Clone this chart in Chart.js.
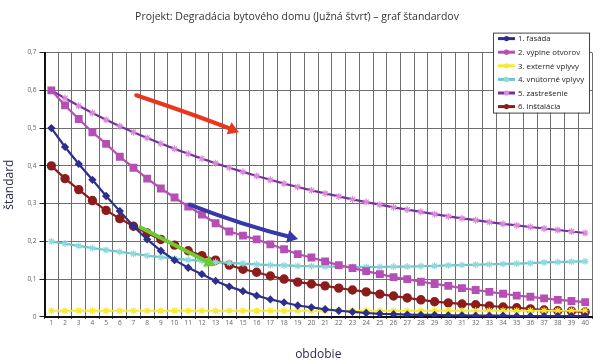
<!DOCTYPE html>
<html>
<head>
<meta charset="utf-8">
<script src="https://cdn.jsdelivr.net/npm/chart.js@4.4.1/dist/chart.umd.min.js"></script>
<style>
  html, body { margin: 0; padding: 0; background: #fff; }
  canvas { display: block; }
</style>
</head>
<body>
<canvas id="myChart" width="600" height="364"></canvas>
<script>
const periods = ["1","2","3","4","5","6","7","8","9","10","11","12","13","14","15","16","17","18","19","20",
  "21","22","23","24","25","26","27","28","29","30","31","32","33","34","35","36","37","38","39","40"];

const fasada = [0.500,0.450,0.405,0.363,0.320,0.280,0.240,0.205,0.175,0.150,0.130,0.113,0.095,0.080,0.068,0.056,0.046,0.038,0.030,0.025,
  0.020,0.016,0.013,0.010,0.008,0.007,0.006,0.005,0.005,0.004,0.004,0.003,0.003,0.003,0.002,0.002,0.002,0.002,0.002,0.002];
const vyplne = [0.600,0.560,0.524,0.489,0.458,0.424,0.395,0.366,0.340,0.316,0.292,0.271,0.248,0.226,0.215,0.205,0.192,0.179,0.166,0.157,
  0.147,0.137,0.129,0.121,0.113,0.105,0.100,0.093,0.087,0.082,0.076,0.071,0.066,0.061,0.056,0.053,0.049,0.045,0.042,0.039];
const externe = [0.016,0.016,0.016,0.016,0.016,0.016,0.016,0.016,0.016,0.016,0.016,0.016,0.016,0.016,0.016,0.016,0.016,0.016,0.016,0.016,
  0.016,0.016,0.016,0.016,0.016,0.016,0.016,0.016,0.016,0.016,0.016,0.016,0.016,0.016,0.016,0.016,0.016,0.016,0.016,0.016];
const vnutorne = [0.200,0.194,0.188,0.182,0.177,0.172,0.167,0.162,0.158,0.154,0.151,0.148,0.145,0.143,0.141,0.139,0.137,0.136,0.135,0.134,
  0.133,0.133,0.132,0.132,0.132,0.133,0.133,0.134,0.135,0.136,0.137,0.138,0.139,0.140,0.141,0.142,0.144,0.145,0.146,0.147];
const zastresenie = [0.600,0.579,0.559,0.540,0.522,0.505,0.489,0.474,0.459,0.445,0.432,0.419,0.407,0.395,0.384,0.373,0.363,0.353,0.344,0.335,
  0.327,0.319,0.311,0.304,0.297,0.290,0.284,0.278,0.272,0.266,0.261,0.256,0.251,0.246,0.242,0.238,0.234,0.230,0.226,0.222];
const instalacia = [0.400,0.366,0.337,0.308,0.282,0.260,0.240,0.222,0.205,0.190,0.175,0.162,0.150,0.137,0.126,0.118,0.108,0.100,0.092,0.087,
  0.082,0.076,0.071,0.066,0.060,0.055,0.050,0.045,0.040,0.037,0.034,0.032,0.029,0.026,0.024,0.021,0.018,0.016,0.015,0.013];

const yTicks = ["0","0,1","0,2","0,3","0,4","0,5","0,6","0,7"];

// hand-drawn highlight arrows, in [period index, value]
const arrowRed = [[7.2, 0.587], [11.2, 0.537], [14.3, 0.495]];
const arrowBlue = [[11.1, 0.297], [14.9, 0.248], [18.6, 0.210]];
const arrowGreen = [[7.5, 0.237], [10.0, 0.190], [12.6, 0.142]];

const FONT = "'Open Sans', 'Liberation Sans', sans-serif";

function star(color) {
  return { pointStyle: "star", pointRadius: 3.5, pointBorderWidth: 1.2, pointBorderColor: color, pointBackgroundColor: color };
}

const datasets = [
  { label: "1. fasáda", data: fasada, borderColor: "#2e2e8c", backgroundColor: "#2e2e8c",
    pointStyle: "rectRot", pointRadius: 2.6, pointBackgroundColor: "#2e2e8c", pointBorderColor: "#2e2e8c" },
  { label: "2. výplne otvorov", data: vyplne, borderColor: "#b54fb5", backgroundColor: "#b54fb5",
    pointStyle: "rect", pointRadius: 4, pointBackgroundColor: "#b54fb5", pointBorderColor: "#b54fb5" },
  Object.assign({ label: "3. externé vplyvy", data: externe, borderColor: "#f5ea3a", backgroundColor: "#f5ea3a" }, star("#f5ea3a")),
  Object.assign({ label: "4. vnútorné vplyvy", data: vnutorne, borderColor: "#6cc8cc", backgroundColor: "#6cc8cc" }, star("#8fd8dc")),
  Object.assign({ label: "5. zastrešenie", data: zastresenie, borderColor: "#7a2f9e", backgroundColor: "#7a2f9e" }, star("#d98ad9")),
  { label: "6. inštalácia", data: instalacia, borderColor: "#8c1d1d", backgroundColor: "#8c1d1d",
    pointStyle: "circle", pointRadius: 3.6, pointBackgroundColor: "#8c1d1d", pointBorderColor: "#8c1d1d" }
];
datasets.forEach(d => { d.borderWidth = 2.2; d.tension = 0; d.fill = false; });

function drawArrow(ctx, chart, pts, color) {
  const xs = chart.scales.x, ys = chart.scales.y;
  const p = pts.map(([c, v]) => [xs.getPixelForValue(c - 1), ys.getPixelForValue(v)]);
  ctx.save();
  ctx.strokeStyle = color;
  ctx.fillStyle = color;
  ctx.lineWidth = 4;
  ctx.lineCap = "round";
  ctx.beginPath();
  ctx.moveTo(p[0][0], p[0][1]);
  const cx = 2 * p[1][0] - (p[0][0] + p[2][0]) / 2;
  const cy = 2 * p[1][1] - (p[0][1] + p[2][1]) / 2;
  ctx.quadraticCurveTo(cx, cy, p[2][0], p[2][1]);
  ctx.stroke();
  const ang = Math.atan2(p[2][1] - cy, p[2][0] - cx);
  ctx.beginPath();
  ctx.moveTo(p[2][0] + 6 * Math.cos(ang), p[2][1] + 6 * Math.sin(ang));
  ctx.lineTo(p[2][0] + 8 * Math.cos(ang + 2.2), p[2][1] + 8 * Math.sin(ang + 2.2));
  ctx.lineTo(p[2][0] + 8 * Math.cos(ang - 2.2), p[2][1] + 8 * Math.sin(ang - 2.2));
  ctx.closePath();
  ctx.fill();
  ctx.restore();
}

const extras = {
  id: "extras",
  afterDatasetsDraw(chart) {
    const ctx = chart.ctx;
    drawArrow(ctx, chart, arrowRed, "#e8361f");
    drawArrow(ctx, chart, arrowBlue, "#3838a8");
    drawArrow(ctx, chart, arrowGreen, "#6ccc34");

    // legend box
    const a = chart.chartArea;
    const bx = a.right - 99, by = a.top - 20, bw = 96, bh = 80;
    ctx.save();
    ctx.fillStyle = "#fff";
    ctx.fillRect(bx, by, bw, bh);
    ctx.strokeStyle = "#444";
    ctx.lineWidth = 1;
    ctx.strokeRect(bx + 0.5, by + 0.5, bw, bh);
    ctx.font = "7.8px " + FONT;
    ctx.textBaseline = "middle";
    chart.data.datasets.forEach((d, i) => {
      const y = by + 6 + i * 13.6;
      ctx.strokeStyle = d.borderColor;
      ctx.lineWidth = 3;
      ctx.beginPath();
      ctx.moveTo(bx + 5, y);
      ctx.lineTo(bx + 22, y);
      ctx.stroke();
      ctx.fillStyle = d.pointBackgroundColor;
      ctx.beginPath();
      ctx.arc(bx + 13.5, y, 2.6, 0, Math.PI * 2);
      ctx.fill();
      ctx.fillStyle = "#222";
      ctx.fillText(d.label, bx + 25, y + 0.5);
    });
    ctx.restore();
  }
};

const ctx = document.getElementById("myChart").getContext("2d");
const myChart = new Chart(ctx, {
  type: "line",
  data: { labels: periods, datasets: datasets },
  options: {
    responsive: false,
    animation: false,
    layout: { padding: { top: 2, right: 8, left: 2, bottom: 2 } },
    plugins: {
      legend: { display: false },
      tooltip: { enabled: false },
      title: {
        display: true,
        text: "Projekt: Degradácia bytového domu (Južná štvrť) – graf štandardov",
        font: { family: FONT, size: 10.5, weight: "normal" },
        color: "#333",
        padding: { top: 9, bottom: 29 }
      }
    },
    scales: {
      x: {
        offset: true,
        grid: { offset: true, color: "#6e6e6e", lineWidth: 1, tickLength: 2, tickColor: "#222" },
        border: { color: "#111", width: 2 },
        ticks: { color: "#666", font: { family: FONT, size: 6.5 }, maxRotation: 0, autoSkip: false, padding: 0 },
        title: { display: true, text: "obdobie", color: "#2a2a50", font: { family: FONT, size: 12 }, padding: { top: 21, bottom: 0 } }
      },
      y: {
        min: 0,
        max: 0.7,
        grid: { color: "#6e6e6e", lineWidth: 1, tickLength: 5, tickColor: "#222" },
        border: { color: "#111", width: 2 },
        ticks: {
          stepSize: 0.1, color: "#666", font: { family: FONT, size: 6.5 }, padding: 3,
          callback: (v, i) => yTicks[i]
        },
        title: { display: true, text: "štandard", color: "#2a2a50", font: { family: FONT, size: 12 }, padding: { top: 0, bottom: 8 } }
      }
    }
  },
  plugins: [extras]
});
</script>
</body>
</html>
